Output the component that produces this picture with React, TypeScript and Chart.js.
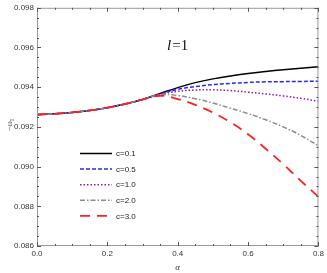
import React, { useEffect, useRef } from "react";
import { Chart, registerables } from "chart.js";

Chart.register(...registerables);

const alpha = [0, 0.05, 0.1, 0.15, 0.2, 0.25, 0.3, 0.35, 0.4, 0.45, 0.5, 0.55, 0.6, 0.65, 0.7, 0.75, 0.8];
const common = [0.09262, 0.09266, 0.09273, 0.09283, 0.09297, 0.09315, 0.09338];
const c01 = [...common, 0.09368, 0.09398, 0.09423, 0.09442, 0.09457, 0.09469, 0.09479, 0.09488, 0.09496, 0.09503];
const c05 = [...common, 0.09366, 0.09389, 0.09403, 0.09413, 0.09419, 0.09424, 0.09427, 0.09428, 0.09429, 0.0943];
const c10 = [...common, 0.09364, 0.09379, 0.09386, 0.09387, 0.09383, 0.09375, 0.09366, 0.09356, 0.09344, 0.09329];
const c20 = [...common, 0.09362, 0.09358, 0.09342, 0.0932, 0.09294, 0.09267, 0.09236, 0.092, 0.09157, 0.09105];
const c30 = [...common, 0.09357, 0.0934, 0.09311, 0.09272, 0.09223, 0.09163, 0.0909, 0.09012, 0.08928, 0.08848];

const seriesNames = ["c=0.1", "c=0.5", "c=1.0", "c=2.0", "c=3.0"];
const seriesValues = [c01, c05, c10, c20, c30];
const seriesColors = ["#000000", "#2a2ae8", "#9a10b0", "#8c8c8c", "#ff2020"];
const seriesDash = [[], [4, 2], [1.5, 2], [5, 2, 1.5, 2], [10, 7]];
const seriesWidth = [1.5, 1.5, 1.5, 1.5, 1.8];

const xTicksMajor = 0.2;
const xTicksMinor = 0.05;
const yTicksMajor = 0.002;
const yTicksMinor = 0.0005;

const decor = {
  id: "decor",
  afterDraw(chart: any) {
    const { ctx, chartArea: a, scales } = chart;
    const xs = scales.x, ys = scales.y;
    ctx.save();
    ctx.strokeStyle = "#9a9a9a";
    ctx.lineWidth = 1;
    ctx.strokeRect(a.left + 0.5, a.top + 0.5, a.right - a.left - 1, a.bottom - a.top - 1);
    ctx.strokeStyle = "#555";
    const eps = 1e-9;
    for (let v = xs.min; v <= xs.max + eps; v += xTicksMinor) {
      const isMajor = Math.abs(v / xTicksMajor - Math.round(v / xTicksMajor)) < 1e-6;
      const L = isMajor ? 4 : 2;
      const px = Math.round(xs.getPixelForValue(v)) + 0.5;
      ctx.beginPath();
      ctx.moveTo(px, a.bottom); ctx.lineTo(px, a.bottom - L);
      ctx.moveTo(px, a.top); ctx.lineTo(px, a.top + L);
      ctx.stroke();
    }
    for (let v = ys.min; v <= ys.max + eps; v += yTicksMinor) {
      const isMajor = Math.abs(v / yTicksMajor - Math.round(v / yTicksMajor)) < 1e-6;
      const L = isMajor ? 4 : 2;
      const py = Math.round(ys.getPixelForValue(v)) + 0.5;
      ctx.beginPath();
      ctx.moveTo(a.left, py); ctx.lineTo(a.left + L, py);
      ctx.moveTo(a.right, py); ctx.lineTo(a.right - L, py);
      ctx.stroke();
    }
    const lx0 = 80, lx1 = 112, ly0 = 153.5, dy = 15.6;
    ctx.font = "8px 'Liberation Sans', Arial, sans-serif";
    ctx.textBaseline = "middle";
    ctx.textAlign = "left";
    seriesNames.forEach((n, i) => {
      const y = ly0 + i * dy;
      ctx.beginPath();
      ctx.setLineDash(seriesDash[i]);
      ctx.strokeStyle = seriesColors[i];
      ctx.lineWidth = seriesWidth[i];
      ctx.moveTo(lx0, y); ctx.lineTo(lx1, y);
      ctx.stroke();
      ctx.setLineDash([]);
      ctx.fillStyle = "#222";
      ctx.fillText(n, 116, y + 0.5);
    });
    ctx.fillStyle = "#111";
    ctx.textBaseline = "alphabetic";
    ctx.font = "italic 15px 'Liberation Serif', serif";
    ctx.fillText("l", 167, 50);
    const w = ctx.measureText("l").width;
    ctx.font = "15px 'Liberation Serif', serif";
    ctx.fillText("=1", 167 + w + 1, 50);
    ctx.font = "italic 9px 'Liberation Serif', serif";
    ctx.textAlign = "center";
    ctx.fillStyle = "#333";
    ctx.fillText("α", (a.left + a.right) / 2, 270);
    ctx.translate(10, 124);
    ctx.rotate(-Math.PI / 2);
    ctx.font = "8px 'Liberation Serif', serif";
    ctx.textAlign = "left";
    const t1 = "−ω";
    const tw = ctx.measureText(t1).width;
    ctx.fillText(t1, -tw / 2 - 2, 2);
    ctx.font = "6px 'Liberation Serif', serif";
    ctx.fillText("I", tw / 2 - 2, 4);
    ctx.restore();
  },
};

export default function App() {
  const ref = useRef<HTMLCanvasElement>(null);
  useEffect(() => {
    const chart = new Chart(ref.current!, {
      type: "line",
      data: {
        datasets: seriesNames.map((n, i) => ({
          label: n,
          data: alpha.map((x, j) => ({ x, y: seriesValues[i][j] })),
          borderColor: seriesColors[i],
          borderDash: seriesDash[i],
          borderWidth: seriesWidth[i],
          pointRadius: 0,
          fill: false,
          tension: 0.4,
          order: 5 - i,
        })),
      },
      options: {
        animation: false,
        responsive: false,
        layout: { padding: { top: 5, right: 6, left: 0, bottom: 0 } },
        plugins: { legend: { display: false }, tooltip: { enabled: false } },
        scales: {
          x: {
            type: "linear",
            min: 0,
            max: 0.8,
            grid: { display: false, drawTicks: false },
            border: { display: false },
            ticks: {
              stepSize: xTicksMajor,
              padding: 3,
              color: "#333",
              font: { size: 8, family: "'Liberation Sans', Arial, sans-serif" },
              callback: (v: any) => Number(v).toFixed(1),
            },
            afterFit: (s: any) => { s.height = 27; },
          },
          y: {
            min: 0.086,
            max: 0.098,
            grid: { display: false, drawTicks: false },
            border: { display: false },
            ticks: {
              stepSize: yTicksMajor,
              padding: 3,
              color: "#333",
              font: { size: 8, family: "'Liberation Sans', Arial, sans-serif" },
              callback: (v: any) => Number(v).toFixed(3),
            },
            afterFit: (s: any) => { s.width = 37; },
          },
        },
      },
      plugins: [decor],
    });
    return () => chart.destroy();
  }, []);
  return (
    <div style={{ position: "fixed", left: 0, top: 0, width: 327, height: 273, background: "#fff" }}>
      <canvas ref={ref} width={327} height={273} />
    </div>
  );
}
